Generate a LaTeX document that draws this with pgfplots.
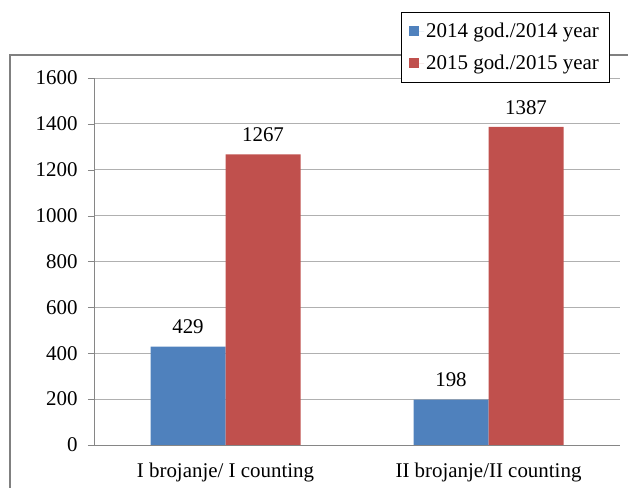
\documentclass[border=0pt]{standalone}
\usepackage{fontspec}
\setmainfont{Liberation Serif}[Ligatures=TeX]
\usepackage{pgfplots}
\pgfplotsset{compat=1.18}
\definecolor{blueb}{HTML}{4F81BD}
\definecolor{redb}{HTML}{C0504D}
\definecolor{gridc}{HTML}{B0B0B0}
\definecolor{axc}{HTML}{868686}
\definecolor{framec}{HTML}{808080}
\newcommand{\cf}{\rmfamily\fontsize{21}{24}\selectfont}
\begin{document}
\begin{tikzpicture}[font=\cf]
\draw[framec, line width=2bp] (10bp,0bp) -- (10bp,433bp) -- (628bp,433bp);
\begin{axis}[
  at={(94bp,43bp)}, anchor=south west,
  scale only axis, width=526bp, height=367bp,
  ybar=0pt, bar width=75bp,
  xmin=-0.5, xmax=1.5, ymin=0, ymax=1600,
  ytick={0,200,...,1600},
  xtick={0,1},
  xticklabels={I brojanje/ I counting, II brojanje/II counting},
  x tick style={draw=none},
  extra x ticks={-0.5,0.5,1.5},
  extra x tick labels={},
  extra x tick style={tick style={draw=axc}, major tick length=7bp, tick align=outside, grid=none},
  axis x line*=bottom, axis y line*=left,
  axis line style={draw=axc, -},
  y tick style={draw=axc},
  tick align=outside, major tick length=6bp,
  ymajorgrids, grid style={draw=gridc, line width=0.8bp},
  font=\cf,
  tick label style={font=\cf},
  /pgf/number format/assume math mode=true,
  /pgf/number format/1000 sep={},
  yticklabel style={xshift=-7bp},
  xticklabel style={yshift=-8bp},
  nodes near coords,
  every node near coord/.append style={font=\cf, yshift=9bp, text=black},
  legend style={at={(0.5837,1.18)}, anchor=north west, draw=black, fill=white,
    font=\cf, row sep=12bp, inner xsep=8bp, inner ysep=9bp,
    legend cell align=left},
  legend image code/.code={\path (0bp,0bp) -- (15bp,0bp); \fill[#1] (0bp,-5bp) rectangle (10bp,5bp);},
]
\addplot[fill=blueb, draw=none] coordinates {(0,429) (1,198)};
\addplot[fill=redb, draw=none] coordinates {(0,1267) (1,1387)};
\legend{2014 god./2014 year, 2015 god./2015 year}
\end{axis}
\pgfresetboundingbox
\path[use as bounding box] (0bp,0bp) rectangle (628bp,488bp);
\end{tikzpicture}
\end{document}
